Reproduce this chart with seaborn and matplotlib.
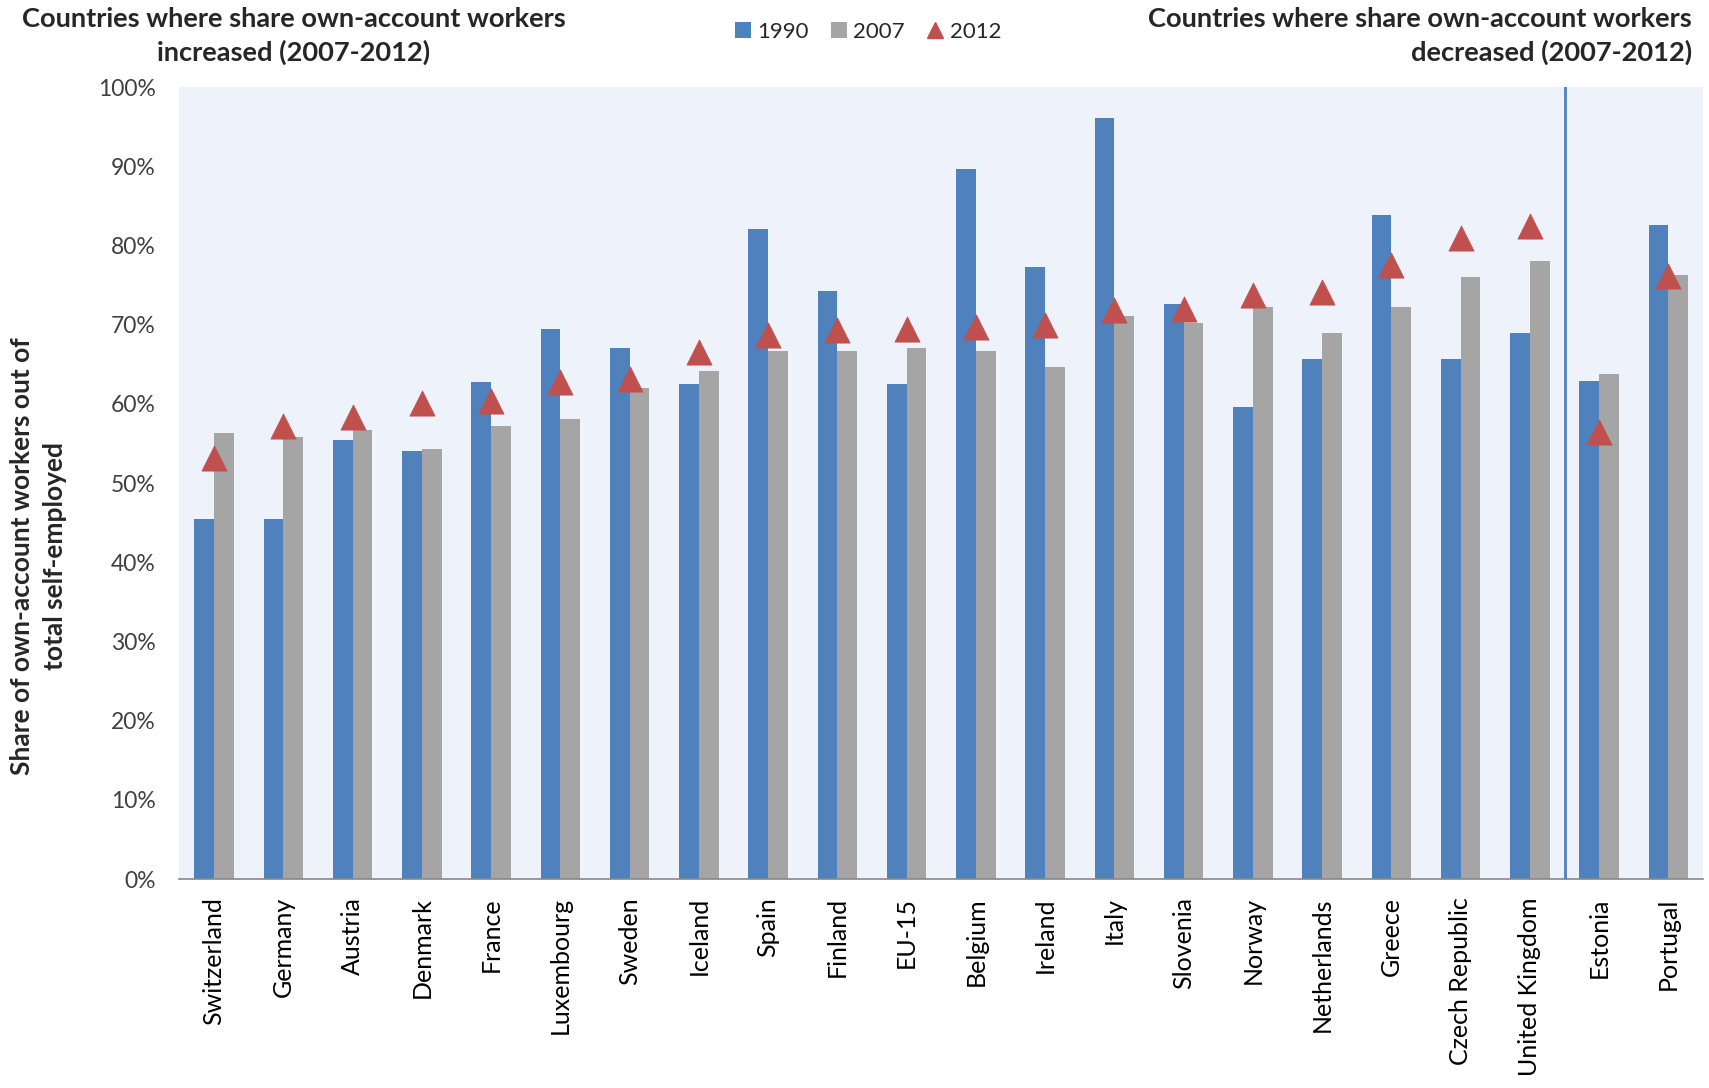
import numpy as np
import pandas as pd
import matplotlib
matplotlib.use("Agg")
import matplotlib.pyplot as plt
from matplotlib.patches import Patch
from matplotlib.lines import Line2D
import seaborn as sns

countries = ["Switzerland", "Germany", "Austria", "Denmark", "France", "Luxembourg",
             "Sweden", "Iceland", "Spain", "Finland", "EU-15", "Belgium", "Ireland",
             "Italy", "Slovenia", "Norway", "Netherlands", "Greece", "Czech Republic",
             "United Kingdom", "Estonia", "Portugal"]
v1990 = [45.5, 45.5, 55.5, 54.0, 62.8, 69.4, 67.1, 62.5, 82.1, 74.2, 62.5, 89.7, 77.3,
         96.1, 72.6, 59.6, 65.7, 83.9, 65.7, 69.0, 62.9, 82.6]
v2007 = [56.3, 55.8, 56.7, 54.3, 57.2, 58.1, 62.0, 64.2, 66.7, 66.7, 67.1, 66.7, 64.7,
         71.1, 70.2, 72.2, 68.9, 72.2, 76.0, 78.0, 63.8, 76.3]
v2012 = [53.2, 57.2, 58.4, 60.1, 60.3, 62.7, 63.2, 66.5, 68.7, 69.3, 69.4, 69.7, 70.0,
         71.9, 72.0, 73.8, 74.1, 77.5, 81.0, 82.4, 56.5, 76.2]
n_increased = 20
yticks = list(range(0, 101, 10))

title_left = "Countries where share own-account workers\nincreased (2007-2012)"
title_right = "Countries where share own-account workers\ndecreased (2007-2012)"
ylabel = "Share of own-account workers out of\ntotal self-employed"

BLUE = "#4F81BD"
GRAY = "#A5A5A5"
RED = "#C0504D"
BG = "#EEF2FA"

sns.set_style("white")
plt.rcParams["font.family"] = ["Lato", "DejaVu Sans"]

df = pd.DataFrame({
    "country": countries * 2,
    "year": ["1990"] * len(countries) + ["2007"] * len(countries),
    "value": v1990 + v2007,
})

fig = plt.figure(figsize=(17.09, 10.88), dpi=100)
ax = fig.add_axes([0.105, 0.192, 0.8915, 0.728])
ax.set_facecolor(BG)

sns.barplot(data=df, x="country", y="value", hue="year", order=countries,
            hue_order=["1990", "2007"], palette=[BLUE, GRAY], width=0.57,
            saturation=1, ax=ax, legend=False, edgecolor="none")

pos = np.arange(len(countries))
sns.scatterplot(x=pos, y=v2012, marker="^", s=330, color=RED, edgecolor=RED,
                linewidth=0.5, ax=ax, zorder=5, legend=False)

ax.axvline(n_increased - 0.5, color=BLUE, lw=2, zorder=4)

ax.set_xlim(-0.5, len(countries) - 0.5)
ax.set_ylim(0, 100)
ax.set_yticks(yticks)
ax.set_yticklabels([f"{t}%" for t in yticks], fontsize=16.5, color="#404040")
ax.set_xticks(pos)
ax.set_xticklabels(countries, rotation=90, fontsize=18, color="black")
ax.set_xticks(np.arange(-0.5, len(countries), 1), minor=True)
ax.tick_params(axis="x", which="major", length=0, pad=13)
ax.tick_params(axis="x", which="minor", length=9, color="#888888", width=1, direction="out")
ax.tick_params(axis="y", length=0, pad=17)
ax.set_xlabel("")
ax.set_ylabel(ylabel, fontsize=19, fontweight="bold", linespacing=1.45)
ax.yaxis.set_label_coords(-0.074, 0.408)

for s in ["top", "right", "left"]:
    ax.spines[s].set_visible(False)
ax.spines["bottom"].set_color("#888888")
ax.spines["bottom"].set_linewidth(1.2)

fig.text(0.172, 0.994, title_left, ha="center", va="top", fontsize=19.6,
         fontweight="bold", linespacing=1.42)
fig.text(0.99, 0.994, title_right, ha="right", va="top", fontsize=19.6,
         fontweight="bold", linespacing=1.42)

handles = [Patch(facecolor=BLUE, edgecolor="none"),
           Patch(facecolor=GRAY, edgecolor="none"),
           Line2D([], [], marker="^", color=RED, linestyle="none", markersize=11)]
fig.legend(handles, ["1990", "2007", "2012"], loc="center", bbox_to_anchor=(0.508, 0.971),
           ncol=3, frameon=False, fontsize=16, handlelength=0.7, handletextpad=0.3,
           columnspacing=1.0)

fig.savefig("out.png", dpi=100)
